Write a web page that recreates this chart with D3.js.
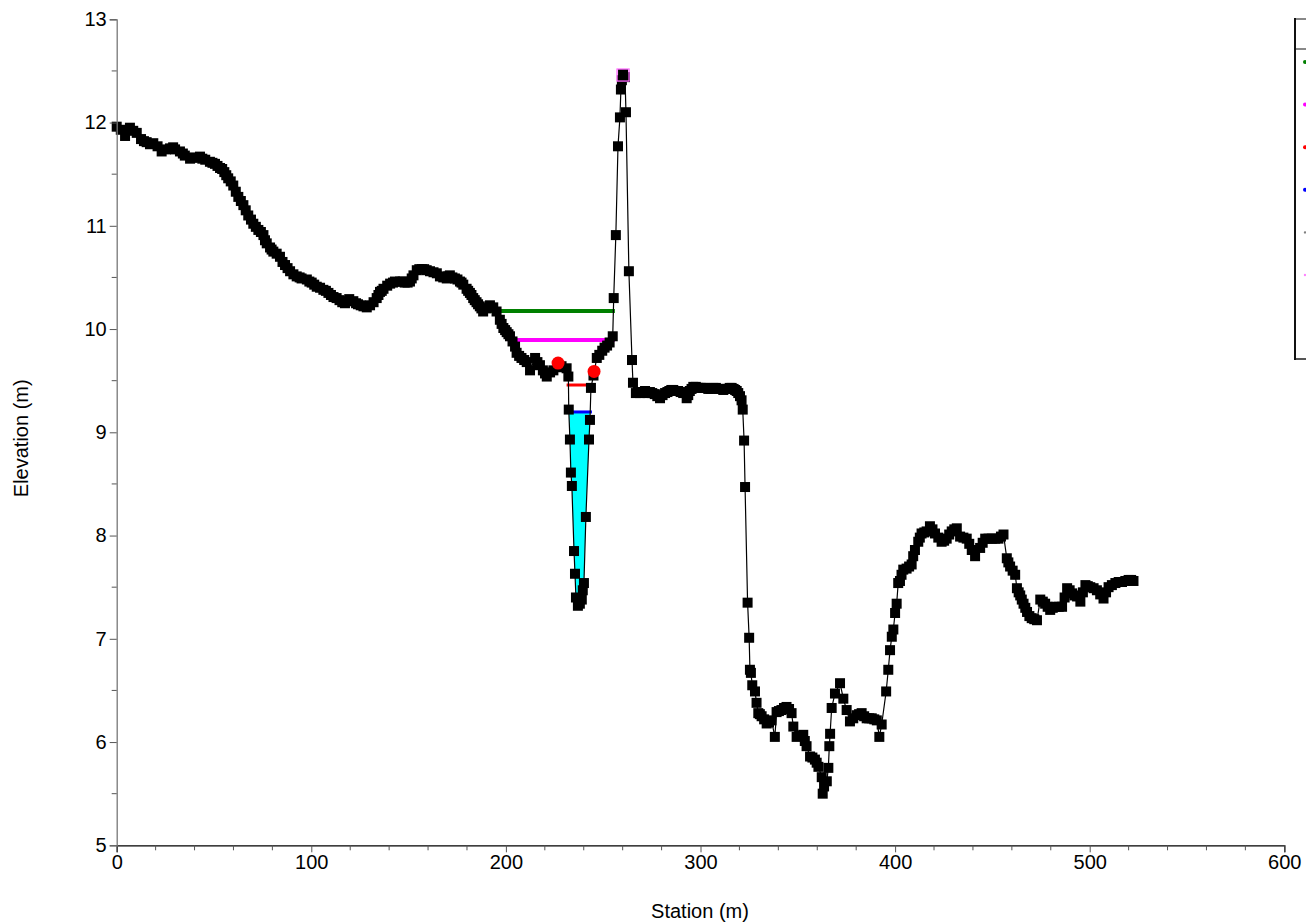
<!DOCTYPE html>
<html>
<head>
<meta charset="utf-8">
<script src="https://cdn.jsdelivr.net/npm/d3@7"></script>
<style>
  html, body { margin: 0; padding: 0; background: #fff; }
  svg { display: block; font-family: "Liberation Sans", Arial, sans-serif; }
</style>
</head>
<body>
<svg id="chart" width="1306" height="924"></svg>
<script>
// ---- Data ----
const station = [
  0, 4.3, 6.8, 10.3, 12.5, 15.4, 18.8, 21.0, 23.1, 27.4, 30.0, 32.5, 35.0, 37.7, 40.0, 42.8, 45.5, 47.9, 50.5, 53.1,
  55.3, 57.3, 59.9, 62.5, 63.8, 65.1, 66.3, 67.6, 69.0, 70.2, 72.8, 75.4, 77.1, 78.8, 80.5, 83.9, 86.5, 89.1, 92.5, 95.0,
  97.7, 100.2, 102.8, 106.2, 108.8, 111.4, 114.5, 117.3, 119.5, 121.6, 124.0, 126.8, 130.2, 133.6, 135.3, 137.1, 140.5, 143.0, 145.6, 148.0,
  150.7, 152.5, 154.2, 156.8, 159.3, 161.0, 164.5, 166.1, 169.6, 171.2, 173.8, 176.4, 178.1, 179.8, 181.5, 183.2, 184.9, 186.6, 188.3, 190.0,
  191.8, 193.5, 195.2, 196.9, 198.7, 200.4, 202.1, 204.7, 205.5, 208.0, 210.7, 212.4, 215.0, 216.2, 217.5, 219.0, 220.1, 221.0, 222.7, 224.4,
  226.5, 228.6, 231.2, 232.1, 232.3, 232.9, 233.4, 233.9, 235.0, 235.5, 236.0, 237.0, 238.0, 239.0, 239.5, 240.1, 241.1, 242.7, 243.2, 243.7,
  245.0, 246.7, 248.0, 249.5, 250.7, 252.0, 253.3, 254.9, 255.4, 256.5, 257.6, 258.6, 259.1, 259.6, 260.2, 261.2, 261.7, 263.2, 264.8, 265.3,
  266.8, 268.9, 271.5, 274.0, 276.5, 279.2, 281.8, 284.0, 286.0, 288.5, 291.1, 292.9, 294.5, 296.3, 298.8, 301.4, 304.0, 306.6, 309.2, 311.7,
  314.0, 316.0, 317.8, 319.4, 321.1, 321.7, 322.4, 322.9, 324.2, 325.0, 325.4, 325.9, 326.6, 328.0, 328.8, 329.7, 331.4, 334.0, 336.5, 338.2,
  339.1, 341.6, 344.2, 346.8, 347.7, 349.4, 352.8, 354.5, 356.3, 358.8, 360.6, 362.3, 362.8, 363.5, 364.9, 365.7, 366.2, 366.6, 367.4, 369.1,
  371.7, 373.4, 375.1, 376.8, 380.3, 382.8, 385.4, 388.0, 390.6, 391.9, 393.1, 395.4, 396.5, 397.4, 398.3, 399.1, 400.0, 400.8, 401.6, 402.5,
  404.2, 405.9, 408.5, 410.2, 411.9, 413.6, 416.2, 417.9, 420.5, 423.9, 426.5, 429.1, 431.7, 433.4, 436.8, 439.4, 441.1, 443.7, 446.3, 449.7,
  453.1, 455.7, 457.4, 459.1, 461.7, 462.6, 464.3, 466.0, 467.8, 470.2, 472.9, 474.6, 477.1, 479.7, 482.4, 485.8, 488.4, 491.0, 493.5, 495.2,
  497.8, 500.3, 503.7, 507.1, 509.7, 513.2, 516.6, 520.0, 522.5,
  // additional survey points read between the above
  2.1, 8.5, 14.0, 17.1, 25.3, 29.0, 34.0, 39.0, 44.0, 49.2, 51.8, 54.2, 56.3, 58.6, 61.2, 71.5, 74.1, 76.2, 79.6, 82.2,
  85.2, 87.8, 90.8, 94.0, 99.0, 101.5, 104.5, 107.5, 110.1, 113.0, 115.9, 118.4, 123.0, 125.4, 128.5, 132.0, 134.5, 136.2, 139.0, 142.0,
  147.0, 149.5, 151.6, 155.5, 158.0, 162.8, 167.8, 170.4, 172.5, 175.1, 177.2, 180.6, 182.3, 184.0, 185.7, 187.4, 197.8, 199.6, 201.3, 203.4,
  206.8, 209.4, 267.8, 270.2, 272.8, 275.2, 277.8, 280.5, 283.0, 285.0, 287.3, 289.8, 293.7, 295.4, 297.6, 300.1, 302.7, 305.3, 307.9, 310.5,
  313.0, 315.0, 317.0, 318.6, 320.3, 330.5, 332.7, 335.2, 340.3, 342.9, 345.5, 350.9, 353.6, 357.5, 359.7, 378.5, 381.5, 384.1, 386.7, 389.3,
  403.3, 407.2, 409.3, 412.7, 415.0, 419.2, 422.2, 425.2, 427.8, 430.4, 435.1, 438.1, 445.0, 448.0, 451.4, 454.4, 458.2, 460.4, 463.5, 465.1,
  466.9, 469.0, 471.5, 475.9, 478.4, 481.0, 484.1, 487.1, 489.7, 492.2, 496.5, 499.0, 502.0, 505.4, 508.4, 511.4, 514.9, 518.3, 521.3
];
const elevation = [
  11.96, 11.87, 11.95, 11.90, 11.84, 11.81, 11.80, 11.77, 11.72, 11.75, 11.74, 11.72, 11.68, 11.65, 11.66, 11.67, 11.64, 11.62, 11.60, 11.56,
  11.52, 11.46, 11.39, 11.28, 11.24, 11.20, 11.15, 11.10, 11.06, 11.02, 10.96, 10.91, 10.83, 10.79, 10.75, 10.70, 10.62, 10.56, 10.51, 10.49,
  10.48, 10.45, 10.41, 10.38, 10.35, 10.31, 10.28, 10.25, 10.29, 10.27, 10.24, 10.22, 10.23, 10.30, 10.36, 10.39, 10.44, 10.46, 10.46, 10.45,
  10.46, 10.52, 10.57, 10.58, 10.57, 10.56, 10.54, 10.51, 10.49, 10.52, 10.49, 10.46, 10.43, 10.39, 10.35, 10.30, 10.26, 10.22, 10.17, 10.20,
  10.23, 10.21, 10.17, 10.09, 10.01, 9.97, 9.93, 9.83, 9.77, 9.72, 9.68, 9.60, 9.72, 9.68, 9.65, 9.60, 9.57, 9.54, 9.58, 9.60,
  9.63, 9.64, 9.62, 9.54, 9.22, 8.93, 8.61, 8.48, 7.85, 7.63, 7.40, 7.32, 7.34, 7.38, 7.47, 7.54, 8.18, 8.93, 9.12, 9.43,
  9.55, 9.72, 9.75, 9.79, 9.82, 9.84, 9.87, 9.93, 10.30, 10.91, 11.77, 12.05, 12.32, 12.41, 12.47, 12.44, 12.10, 10.56, 9.70, 9.48,
  9.38, 9.38, 9.40, 9.39, 9.37, 9.33, 9.38, 9.40, 9.41, 9.40, 9.38, 9.33, 9.40, 9.44, 9.43, 9.43, 9.42, 9.43, 9.42, 9.41,
  9.42, 9.43, 9.41, 9.38, 9.31, 9.22, 8.92, 8.47, 7.35, 7.01, 6.70, 6.67, 6.55, 6.49, 6.38, 6.28, 6.25, 6.18, 6.21, 6.05,
  6.29, 6.31, 6.34, 6.28, 6.15, 6.05, 6.07, 5.96, 5.86, 5.83, 5.76, 5.66, 5.50, 5.57, 5.62, 5.75, 5.96, 6.08, 6.33, 6.47,
  6.57, 6.42, 6.31, 6.20, 6.26, 6.28, 6.23, 6.23, 6.21, 6.05, 6.17, 6.49, 6.70, 6.89, 7.02, 7.09, 7.25, 7.34, 7.54, 7.56,
  7.67, 7.68, 7.72, 7.86, 7.94, 8.02, 8.04, 8.09, 8.02, 7.94, 7.97, 8.04, 8.07, 7.99, 7.97, 7.86, 7.80, 7.88, 7.97, 7.97,
  7.97, 8.01, 7.78, 7.70, 7.62, 7.49, 7.42, 7.34, 7.26, 7.20, 7.18, 7.38, 7.34, 7.28, 7.31, 7.31, 7.49, 7.44, 7.41, 7.36,
  7.52, 7.50, 7.47, 7.39, 7.50, 7.54, 7.55, 7.57, 7.56,
  // additional survey points
  11.93, 11.92, 11.82, 11.79, 11.74, 11.76, 11.70, 11.66, 11.65, 11.61, 11.58, 11.55, 11.49, 11.43, 11.33, 10.99, 10.94, 10.86, 10.77, 10.73,
  10.65, 10.59, 10.53, 10.50, 10.46, 10.43, 10.40, 10.37, 10.33, 10.30, 10.26, 10.27, 10.25, 10.23, 10.21, 10.26, 10.33, 10.37, 10.42, 10.45,
  10.46, 10.45, 10.49, 10.58, 10.58, 10.55, 10.50, 10.51, 10.50, 10.48, 10.45, 10.37, 10.33, 10.28, 10.24, 10.20, 10.05, 9.99, 9.95, 9.88,
  9.74, 9.70, 9.39, 9.39, 9.38, 9.38, 9.35, 9.36, 9.39, 9.41, 9.40, 9.39, 9.36, 9.42, 9.44, 9.43, 9.43, 9.42, 9.43, 9.42,
  9.42, 9.43, 9.42, 9.40, 9.35, 6.27, 6.22, 6.19, 6.30, 6.33, 6.32, 6.06, 6.01, 5.85, 5.80, 6.23, 6.27, 6.25, 6.23, 6.22,
  7.62, 7.70, 7.80, 7.98, 8.03, 8.06, 7.98, 7.95, 8.01, 8.06, 7.98, 7.92, 7.93, 7.97, 7.97, 7.99, 7.74, 7.66, 7.45, 7.38,
  7.30, 7.22, 7.19, 7.36, 7.31, 7.30, 7.31, 7.40, 7.47, 7.42, 7.45, 7.51, 7.49, 7.43, 7.45, 7.52, 7.55, 7.56, 7.57
];

// Water-surface style levels: [startStation, endStation, elevation]
const greenLevel   = [186.7, 256.0, 10.175];
const magentaLevel = [201.0, 256.0, 9.894];
const redLevel     = [231.2, 243.7, 9.458];
const blueLevel    = [232.3, 244.2, 9.197];   // water surface in channel
const bankStations = [226.8, 245.3];
const bankElev     = [9.67, 9.59];
const peakMarker   = [260.2, 12.46];

const xTicks = [0, 100, 200, 300, 400, 500, 600];
const yTicks = [5, 6, 7, 8, 9, 10, 11, 12, 13];
const xTitle = "Station (m)";
const yTitle = "Elevation (m)";

const legendColors = ["#008000", "#ff00ff", "#ff0000", "#0000ff", "#7f7f7f", "#ff80ff"];

// ---- Chart ----
const svg = d3.select("#chart");
const pLeft = 116.7, pRight = 1284.3, pTop = 19.3, pBottom = 845.3;
const x = d3.scaleLinear().domain([0, 600]).range([pLeft, pRight]);
const y = d3.scaleLinear().domain([5, 13]).range([pBottom, pTop]);

const ground = station.map((s, i) => ({ s, e: elevation[i] }))
  .sort((a, b) => d3.ascending(a.s, b.s));

// water polygon (terrain below blue level between banks)
const wse = blueLevel[2];
const water = [];
for (let i = 0; i < ground.length - 1; i++) {
  const a = ground[i], b = ground[i + 1];
  if (a.s < blueLevel[0] - 1 || b.s > blueLevel[1] + 1) continue;
  if (a.e <= wse) water.push(a);
  if ((a.e - wse) * (b.e - wse) < 0) {
    const t = (wse - a.e) / (b.e - a.e);
    water.push({ s: a.s + t * (b.s - a.s), e: wse });
  }
}
svg.append("path")
  .datum(water)
  .attr("d", d3.line().x(d => x(d.s)).y(d => y(d.e)).curve(d3.curveLinearClosed))
  .attr("fill", "#00ffff").attr("stroke", "none");

// level lines
function level(l, color, w) {
  svg.append("line")
    .attr("x1", x(l[0])).attr("x2", x(l[1]))
    .attr("y1", y(l[2])).attr("y2", y(l[2]))
    .attr("stroke", color).attr("stroke-width", w);
}
level(greenLevel, "#008000", 4);
level(magentaLevel, "#ff00ff", 4);
level(redLevel, "#ff0000", 3);
level(blueLevel, "#0000ff", 3);

// ground line
svg.append("path")
  .datum(ground)
  .attr("d", d3.line().x(d => x(d.s)).y(d => y(d.e)))
  .attr("fill", "none").attr("stroke", "#000").attr("stroke-width", 1.2);

// ground markers
svg.append("g").selectAll("rect").data(ground).join("rect")
  .attr("x", d => x(d.s) - 5).attr("y", d => y(d.e) - 5)
  .attr("width", 10).attr("height", 10).attr("fill", "#000");

// bank station markers
svg.append("g").selectAll("circle").data(bankStations).join("circle")
  .attr("cx", d => x(d)).attr("cy", (d, i) => y(bankElev[i])).attr("r", 6.5)
  .attr("fill", "#ff0000");

// peak marker (open square)
svg.append("rect")
  .attr("x", x(peakMarker[0]) - 6).attr("y", y(peakMarker[1]) - 6)
  .attr("width", 12).attr("height", 12)
  .attr("fill", "none").attr("stroke", "#ff66ff").attr("stroke-width", 1.3);

// ---- Axes ----
const xAxis = d3.axisBottom(x).tickValues(xTicks).tickSize(7).tickPadding(3).tickFormat(d3.format("d"));
const gx = svg.append("g").attr("transform", `translate(0,${pBottom})`).call(xAxis);
gx.select(".domain").attr("stroke", "#000").attr("stroke-width", 1.3);
gx.selectAll(".tick line").attr("stroke", "#555");
gx.selectAll(".tick text").attr("font-size", 20).attr("fill", "#000")
  .attr("font-family", "Liberation Sans, Arial, sans-serif");

const xMinor = d3.range(0, 601, 20).filter(v => v % 100 !== 0);
svg.append("g").selectAll("line").data(xMinor).join("line")
  .attr("x1", d => x(d)).attr("x2", d => x(d))
  .attr("y1", pBottom).attr("y2", pBottom + 5).attr("stroke", "#555");

const yAxis = d3.axisLeft(y).tickValues(yTicks).tickSize(7).tickPadding(3).tickFormat(d3.format("d"));
const gy = svg.append("g").attr("transform", `translate(${pLeft},0)`).call(yAxis);
gy.select(".domain").attr("stroke", "#777").attr("stroke-width", 1.3);
gy.selectAll(".tick line").attr("stroke", "#555");
gy.selectAll(".tick text").attr("font-size", 20).attr("fill", "#000")
  .attr("font-family", "Liberation Sans, Arial, sans-serif");

const yMinor = d3.range(5.5, 13, 1);
svg.append("g").selectAll("line").data(yMinor).join("line")
  .attr("x1", pLeft - 5).attr("x2", pLeft)
  .attr("y1", d => y(d)).attr("y2", d => y(d)).attr("stroke", "#555");

// titles
svg.append("text").attr("x", 700).attr("y", 918).attr("text-anchor", "middle")
  .attr("font-size", 20).text(xTitle);
svg.append("text").attr("transform", `translate(28,${(pTop + pBottom) / 2 + 6}) rotate(-90)`)
  .attr("text-anchor", "middle").attr("font-size", 20).text(yTitle);

// ---- Legend (cut off at right edge) ----
const lg = svg.append("g");
lg.append("rect").attr("x", 1295).attr("y", 19).attr("width", 30).attr("height", 340)
  .attr("fill", "#fff").attr("stroke", "none");
lg.append("line").attr("x1", 1295).attr("x2", 1306).attr("y1", 19).attr("y2", 19)
  .attr("stroke", "#888").attr("stroke-width", 2);
lg.append("line").attr("x1", 1295).attr("x2", 1306).attr("y1", 49).attr("y2", 49)
  .attr("stroke", "#888").attr("stroke-width", 2);
lg.append("line").attr("x1", 1295).attr("x2", 1306).attr("y1", 359).attr("y2", 359)
  .attr("stroke", "#555").attr("stroke-width", 2);
lg.append("line").attr("x1", 1295).attr("x2", 1295).attr("y1", 18).attr("y2", 360)
  .attr("stroke", "#111").attr("stroke-width", 2);
lg.selectAll("circle.lm").data(legendColors).join("circle").attr("class", "lm")
  .attr("cx", 1305).attr("cy", (d, i) => 62 + i * 42.6)
  .attr("r", (d, i) => i < 4 ? 2 : 1.2).attr("fill", d => d);
</script>
</body>
</html>
